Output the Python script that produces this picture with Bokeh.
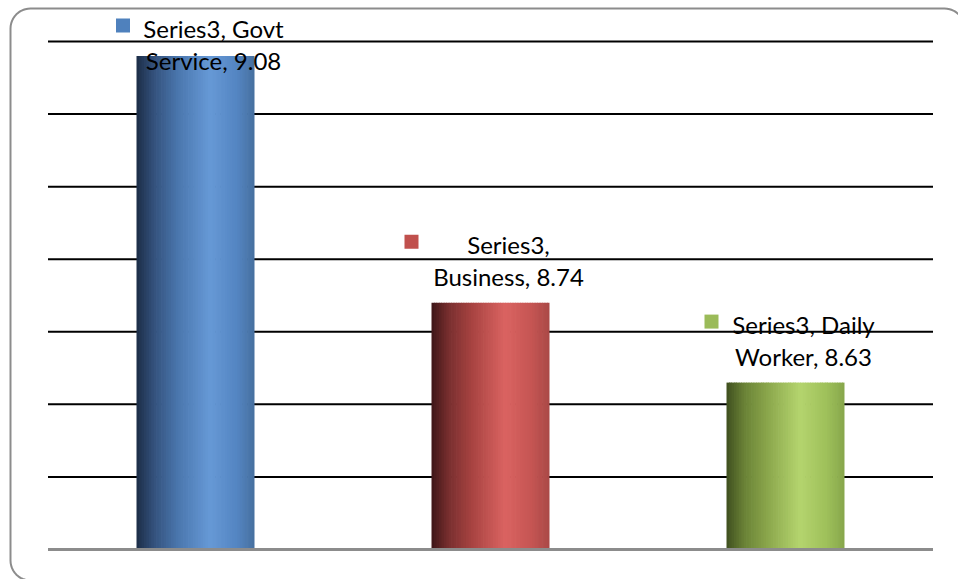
import math
from bokeh.plotting import figure
from bokeh.models import Range1d
from bokeh.core.properties import value
from bokeh.embed import file_html
from bokeh.resources import INLINE

# ---- data ----
categories = ["Govt Service", "Business", "Daily Worker"]
values = [9.08, 8.74, 8.63]
series_name = "Series3"
label_line1 = ["Series3, Govt", "Series3,", "Series3, Daily"]
label_line2 = ["Service, 9.08", "Business, 8.74", "Worker, 8.63"]
grid_ticks = [8.5, 8.6, 8.7, 8.8, 8.9, 9.0, 9.1]
axis_min = 8.4

# ---- styling ----
W, H = 958, 579
px_x = 295.0            # pixels per category
px_y = 508.0 / 0.7      # pixels per unit value
xs = -47.5 / px_x
xe = xs + W / px_x
ys = axis_min - 30 / px_y
ye = grid_ticks[-1] + 41 / px_y

bar_width = 0.4
marker_dx_px = [-72.5, -79.0, -74.0]
marker_colors = ["#4f81bd", "#c0504d", "#9bbb59"]
gradients = [
    [(0.0, "#1c2d47"), (0.15, "#34527d"), (0.35, "#4a76ad"), (0.62, "#6699d6"), (0.85, "#5485c2"), (1.0, "#46709f")],
    [(0.0, "#3e1618"), (0.15, "#7a2f2f"), (0.35, "#a94442"), (0.62, "#da6361"), (0.85, "#c55553"), (1.0, "#a94846")],
    [(0.0, "#3f4f1f"), (0.15, "#6a8236"), (0.35, "#8ba74c"), (0.62, "#b4d46e"), (0.85, "#9ec05a"), (1.0, "#86a64b")],
]


def hex2rgb(h):
    h = h.lstrip("#")
    return tuple(int(h[i:i + 2], 16) for i in (0, 2, 4))


def interp(stops, t):
    for (t0, c0), (t1, c1) in zip(stops[:-1], stops[1:]):
        if t0 <= t <= t1:
            f = (t - t0) / (t1 - t0) if t1 > t0 else 0
            a, b = hex2rgb(c0), hex2rgb(c1)
            r = [round(a[k] + (b[k] - a[k]) * f) for k in range(3)]
            return "#%02x%02x%02x" % tuple(r)
    return stops[-1][1]


def px2data(px, py):
    return xs + px / px_x, ye - py / px_y


p = figure(width=W, height=H, output_backend="svg", toolbar_location=None,
           x_range=Range1d(xs, xe), y_range=Range1d(ys, ye),
           x_axis_location=None, y_axis_location=None, min_border=0,
           min_border_left=0, min_border_right=0, min_border_top=0, min_border_bottom=0)
p.outline_line_color = None
p.xgrid.visible = False
p.ygrid.visible = False
p.background_fill_color = "white"
p.border_fill_color = "white"

# rounded chart border (frame decoration, continues past the window edges)
bl, bt, br, bb, rad = 10, 8, 964, 580, 20
path = []
def arc(cx_, cy_, a0, a1):
    for k in range(13):
        a = math.radians(a0 + (a1 - a0) * k / 12)
        path.append((cx_ + rad * math.cos(a), cy_ + rad * math.sin(a)))
path.append((br + 40, bb))
arc(bl + rad, bb - rad, 90, 180)
arc(bl + rad, bt + rad, 180, 270)
arc(br - rad, bt + rad, 270, 360)
path.append((br, bb + 40))
bx, by = zip(*[px2data(a, b) for a, b in path])
p.line(x=list(bx), y=list(by), line_color="#8c8c8c", line_width=2)

# gridlines
n_cat = len(categories)
p.segment(x0=[0] * len(grid_ticks), x1=[n_cat] * len(grid_ticks), y0=grid_ticks, y1=grid_ticks,
          line_color="black", line_width=2)

# gradient bars built from thin strips
N = 48
L, R, T, B, C = [], [], [], [], []
for i, (v, stops) in enumerate(zip(values, gradients)):
    c = i + 0.5
    left0 = c - bar_width / 2
    step = bar_width / N
    for k in range(N):
        L.append(left0 + k * step)
        R.append(left0 + (k + 1) * step + step * 0.3 if k < N - 1 else left0 + (k + 1) * step)
        T.append(v)
        B.append(axis_min)
        C.append(interp(stops, (k + 0.5) / N))
p.quad(left=L, right=R, top=T, bottom=B, fill_color=C, line_color=None)

# baseline (category axis)
p.segment(x0=[0], x1=[n_cat], y0=[axis_min], y1=[axis_min], line_color="#8c8c8c", line_width=3)

# data labels
cap = grid_ticks[-1] - 19 / px_y
gap = 26 / px_y
spacing = 32 / px_y
cx = [i + 0.5 + 18 / px_x for i in range(n_cat)]
y2 = [min(v + gap, cap) for v in values]
y1 = [y + spacing for y in y2]
for lines, ys_ in ((label_line1, y1), (label_line2, y2)):
    p.text(x=cx, y=ys_, text=lines, text_align="center", text_baseline="middle",
           text_font=value("Lato"), text_font_size="24px", text_color="black")
mx = [i + 0.5 + d / px_x for i, d in enumerate(marker_dx_px)]
my = [y + 3 / px_y for y in y1]
p.scatter(x=mx, y=my, marker="square", size=14, fill_color=marker_colors, line_color=None)

open("out.html", "w").write(file_html(p, INLINE))
